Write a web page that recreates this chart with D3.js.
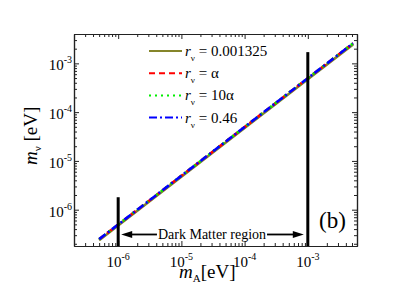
<!DOCTYPE html>
<html>
<head>
    <title>m_nu vs m_A</title>
    <meta http-equiv="content-type" content="text/html; charset=UTF-8">
    <script type="text/javascript" src="https://cdn.jsdelivr.net/npm/d3@7"></script>
</head>
<body style="margin:0;background:#fff;">

<style>
    text {
        font-family: "Liberation Serif", "DejaVu Serif", serif;
        fill: #000;
    }
    .frame line, .frame path {
        stroke: #222;
    }
</style>

<script type="text/javascript">
    // data
    var mA = [5e-7, 1e-6, 1e-5, 1e-4, 1e-3, 5.2e-3];
    var mNuR0001325 = [2.36e-7, 4.72e-7, 4.72e-6, 4.72e-5, 4.72e-4, 2.45e-3];
    var mNuAlpha = [2.48e-7, 4.95e-7, 4.95e-6, 4.95e-5, 4.95e-4, 2.57e-3];
    var mNu10Alpha = [2.48e-7, 4.96e-7, 4.96e-6, 4.96e-5, 4.96e-4, 2.58e-3];
    var mNu046 = [2.49e-7, 4.97e-7, 4.97e-6, 4.97e-5, 4.97e-4, 2.58e-3];

    var seriesNames = ["0.001325", "\u03b1", "10\u03b1", "0.46"];
    var seriesColors = ["#85852a", "#ff0000", "#00ee00", "#0000ff"];
    var seriesDash = [null, "6,4", "2,4", "8,3,2,3"];

    var xDomain = [2e-7, 6e-3];
    var yDomain = [1.8e-7, 4e-3];
    var majorTicks = [1e-6, 1e-5, 1e-4, 1e-3];
    var tickExponents = ["-6", "-5", "-4", "-3"];

    // Dark Matter region bounds and marker heights
    var dmBounds = [1e-6, 1e-3];
    var dmTops = [1.8e-6, 1.7e-3];
    var dmArrowY = 3.1e-7;

    var width = 415, height = 294;
    var margin = {left: 74, right: 58, top: 34, bottom: 48};

    var svg = d3.select("body").append("svg")
        .attr("width", width)
        .attr("height", height);

    var x = d3.scaleLog().domain(xDomain).range([margin.left, width - margin.right]);
    var y = d3.scaleLog().domain(yDomain).range([height - margin.bottom, margin.top]);

    var x0 = margin.left, x1 = width - margin.right;
    var y0 = height - margin.bottom, y1 = margin.top;

    // axes: ticks pointing inward on all four sides
    function addAxis(axisFn, scale, transform, values, size) {
        svg.append("g")
            .attr("class", "frame")
            .attr("transform", transform)
            .call(axisFn(scale).tickValues(values).tickSizeInner(size).tickSizeOuter(0).tickFormat(""))
            .call(function (g) { g.select(".domain").attr("stroke-width", 1.2); });
    }

    var xMinor = x.ticks().filter(function (d) { return majorTicks.indexOf(d) < 0; });
    var yMinor = y.ticks().filter(function (d) { return majorTicks.indexOf(d) < 0; });

    addAxis(d3.axisBottom, x, "translate(0," + y0 + ")", majorTicks, -5);
    addAxis(d3.axisBottom, x, "translate(0," + y0 + ")", xMinor, -3);
    addAxis(d3.axisTop, x, "translate(0," + y1 + ")", majorTicks, -5);
    addAxis(d3.axisTop, x, "translate(0," + y1 + ")", xMinor, -3);
    addAxis(d3.axisLeft, y, "translate(" + x0 + ",0)", majorTicks, -5);
    addAxis(d3.axisLeft, y, "translate(" + x0 + ",0)", yMinor, -3);
    addAxis(d3.axisRight, y, "translate(" + x1 + ",0)", majorTicks, -5);
    addAxis(d3.axisRight, y, "translate(" + x1 + ",0)", yMinor, -3);

    // tick labels 10^n
    majorTicks.forEach(function (v, i) {
        var t = svg.append("text")
            .attr("x", x(v))
            .attr("y", y0 + 21)
            .attr("text-anchor", "middle")
            .style("font-size", "15px");
        t.append("tspan").text("10");
        t.append("tspan").attr("dy", -7).style("font-size", "10px").text(tickExponents[i]);

        var s = svg.append("text")
            .attr("x", x0 - 2)
            .attr("y", y(v) + 7)
            .attr("text-anchor", "end")
            .style("font-size", "15px");
        s.append("tspan").text("10");
        s.append("tspan").attr("dy", -7).style("font-size", "10px").text(tickExponents[i]);
    });

    // data lines
    var line = d3.line()
        .x(function (d) { return x(d[0]); })
        .y(function (d) { return y(d[1]); });

    [mNuR0001325, mNuAlpha, mNu10Alpha, mNu046].forEach(function (vals, i) {
        svg.append("path")
            .datum(mA.map(function (m, j) { return [m, vals[j]]; }))
            .attr("fill", "none")
            .attr("stroke", seriesColors[i])
            .attr("stroke-width", 2.6)
            .attr("stroke-dasharray", seriesDash[i])
            .attr("d", line);
    });

    // vertical markers
    dmBounds.forEach(function (v, i) {
        svg.append("line")
            .attr("x1", x(v)).attr("x2", x(v))
            .attr("y1", y(dmTops[i])).attr("y2", y0)
            .attr("stroke", "#000")
            .attr("stroke-width", 3);
    });

    // Dark Matter region arrow
    var ay = y(dmArrowY);
    var label = svg.append("text")
        .attr("x", 212)
        .attr("y", ay + 4.5)
        .attr("text-anchor", "middle")
        .style("font-size", "14px")
        .text("Dark Matter region");
    var bb = label.node().getBBox();

    function arrow(fromX, tipX) {
        var dir = tipX < fromX ? 1 : -1;
        svg.append("line")
            .attr("x1", fromX).attr("x2", tipX + dir * 8)
            .attr("y1", ay).attr("y2", ay)
            .attr("stroke", "#000").attr("stroke-width", 1.8);
        svg.append("path")
            .attr("d", "M" + tipX + "," + ay + "L" + (tipX + dir * 11) + "," + (ay - 3.5) +
                "L" + (tipX + dir * 11) + "," + (ay + 3.5) + "Z")
            .attr("fill", "#000");
    }
    arrow(bb.x - 1, x(dmBounds[0]) + 3);
    arrow(bb.x + bb.width + 1, x(dmBounds[1]) - 4);

    // panel tag
    svg.append("text")
        .attr("x", 319)
        .attr("y", 228)
        .style("font-size", "23px")
        .text("(b)");

    // legend
    seriesNames.forEach(function (name, i) {
        var ly = 51 + i * 22.2;
        svg.append("line")
            .attr("x1", 149).attr("x2", 182)
            .attr("y1", ly).attr("y2", ly)
            .attr("stroke", seriesColors[i])
            .attr("stroke-width", 2)
            .attr("stroke-dasharray", seriesDash[i]);
        var t = svg.append("text")
            .attr("x", 185)
            .attr("y", ly + 5)
            .style("font-size", "15px");
        t.append("tspan").style("font-style", "italic").text("r");
        t.append("tspan").attr("dy", 5).style("font-size", "9px").text("\u03bd");
        t.append("tspan").attr("dy", -5).text(" = " + name);
    });

    // axis titles
    var xt = svg.append("text")
        .attr("x", 179)
        .attr("y", 278)
        .style("font-size", "19px");
    xt.append("tspan").style("font-style", "italic").text("m");
    xt.append("tspan").attr("dy", 4).style("font-size", "11px").text("A");
    xt.append("tspan").attr("dy", -4).text("[eV]");

    var yt = svg.append("text")
        .attr("transform", "translate(37,165) rotate(-90)")
        .style("font-size", "19px");
    yt.append("tspan").style("font-style", "italic").text("m");
    yt.append("tspan").attr("dy", 4).style("font-size", "11px").text("\u03bd");
    yt.append("tspan").attr("dy", -4).text(" [eV]");
</script>
</body>
</html>
